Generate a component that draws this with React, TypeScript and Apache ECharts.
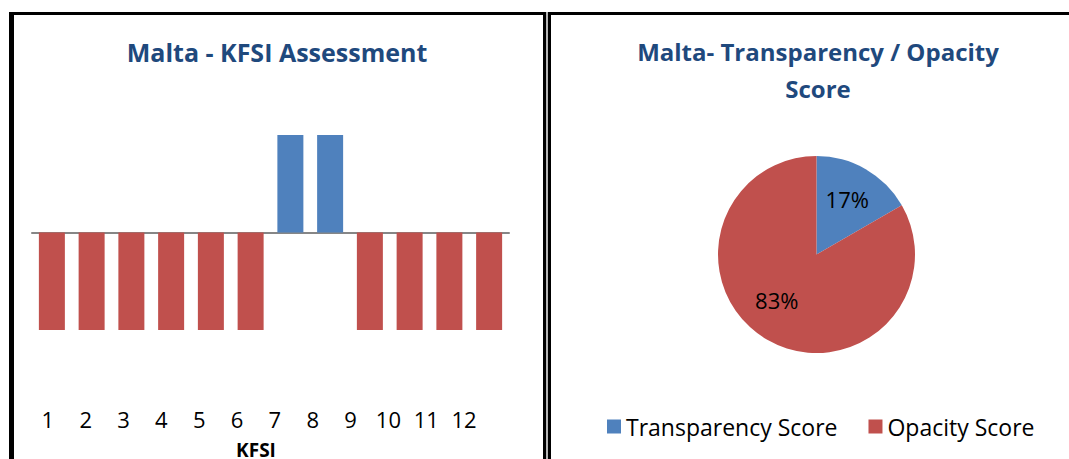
import React, { useEffect, useRef } from "react";
import * as echarts from "echarts";

const kfsiCategories = ["1", "2", "3", "4", "5", "6", "7", "8", "9", "10", "11", "12"];
const kfsiScores = [-1, -1, -1, -1, -1, -1, 1, 1, -1, -1, -1, -1];
const pieNames = ["Transparency Score", "Opacity Score"];
const pieValues = [2, 10];
const barTitle = "Malta - KFSI Assessment";
const pieTitle = "Malta- Transparency / Opacity\nScore";
const axisName = "KFSI";

const BLUE = "#4F81BD";
const RED = "#C0504D";
const TITLE = "#1F497D";
const FONT = "Open Sans";

export default function App() {
  const ref = useRef<HTMLDivElement>(null);
  useEffect(() => {
    if (!ref.current) return;
    const chart = echarts.init(ref.current, undefined, { renderer: "svg" });
    const pieData = pieNames.map((n, i) => ({ name: n, value: pieValues[i] }));
    chart.setOption({
      animation: false,
      color: [BLUE, RED],
      grid: [
        { left: 32, top: 135, width: 477, height: 195 },
        { left: 29, top: 419, width: 454, height: 1 },
      ],
      xAxis: [
        {
          gridIndex: 0,
          type: "category",
          data: kfsiCategories,
          axisLine: { onZero: true, lineStyle: { color: "#868686", width: 2 } },
          axisTick: { show: false },
          axisLabel: { show: false },
          splitLine: { show: false },
        },
        {
          gridIndex: 1,
          type: "category",
          data: kfsiCategories,
          axisLine: { show: false },
          axisTick: { show: false },
          splitLine: { show: false },
          axisLabel: {
            show: true,
            margin: 0,
            verticalAlign: "middle",
            color: "#000",
            fontSize: 22,
            fontFamily: FONT,
          },
          name: axisName,
          nameLocation: "middle",
          nameGap: 22,
          nameTextStyle: {
            fontWeight: "bold",
            fontSize: 19,
            lineHeight: 17,
            color: "#000",
            fontFamily: FONT,
          },
        },
      ],
      yAxis: [
        { gridIndex: 0, type: "value", min: -1, max: 1, show: false },
        { gridIndex: 1, type: "value", min: 0, max: 1, show: false },
      ],
      legend: {
        data: pieNames,
        left: 607,
        top: 415,
        padding: 0,
        icon: "rect",
        itemWidth: 14,
        itemHeight: 14,
        itemGap: 31,
        textStyle: { fontSize: 23, fontFamily: FONT, color: "#000" },
      },
      series: [
        {
          type: "bar",
          xAxisIndex: 0,
          yAxisIndex: 0,
          barWidth: 26,
          data: kfsiScores.map((v) => ({ value: v, itemStyle: { color: v > 0 ? BLUE : RED } })),
        },
        {
          type: "pie",
          center: [816.5, 254.5],
          radius: 98.5,
          startAngle: 90,
          clockwise: true,
          silent: true,
          data: pieData,
          label: { show: false },
          labelLine: { show: false },
          itemStyle: { borderWidth: 0 },
        },
        {
          type: "pie",
          center: [816.5, 254.5],
          radius: 121,
          startAngle: 90,
          clockwise: true,
          silent: true,
          data: pieData,
          itemStyle: { color: "rgba(0,0,0,0)", borderWidth: 0 },
          labelLine: { show: false },
          labelLayout: (p: any) => (p.dataIndex === 1 ? { dx: -8, dy: -9 } : { dx: -1, dy: -1 }),
          label: {
            show: true,
            position: "inside",
            formatter: (p: any) => Math.round(p.percent) + "%",
            fontSize: 22,
            fontFamily: FONT,
            color: "#000",
          },
        },
      ],
      graphic: [
        { type: "rect", shape: { x: 9, y: 12, width: 5, height: 460 }, style: { fill: "#000" } },
        { type: "rect", shape: { x: 9, y: 12, width: 537, height: 3 }, style: { fill: "#000" } },
        { type: "rect", shape: { x: 543, y: 12, width: 3, height: 460 }, style: { fill: "#000" } },
        { type: "rect", shape: { x: 546, y: 12, width: 2, height: 460 }, style: { fill: "#b5b5b5" } },
        { type: "rect", shape: { x: 548, y: 12, width: 3, height: 460 }, style: { fill: "#000" } },
        { type: "rect", shape: { x: 548, y: 12, width: 521, height: 3 }, style: { fill: "#000" } },
        {
          type: "text",
          x: 277,
          y: 52,
          style: {
            text: barTitle,
            fill: TITLE,
            fontSize: 25,
            fontWeight: "bold",
            fontFamily: FONT,
            align: "center",
            verticalAlign: "middle",
            textAlign: "center",
            textVerticalAlign: "middle",
          },
        },
        {
          type: "text",
          x: 818,
          y: 70,
          style: {
            text: pieTitle,
            fill: TITLE,
            fontSize: 24,
            fontWeight: "bold",
            fontFamily: FONT,
            lineHeight: 37,
            align: "center",
            verticalAlign: "middle",
            textAlign: "center",
            textVerticalAlign: "middle",
          },
        },
      ],
    });
    return () => chart.dispose();
  }, []);
  return (
    <div
      ref={ref}
      style={{ position: "absolute", left: 0, top: 0, width: 1069, height: 459, background: "#fff" }}
    />
  );
}
